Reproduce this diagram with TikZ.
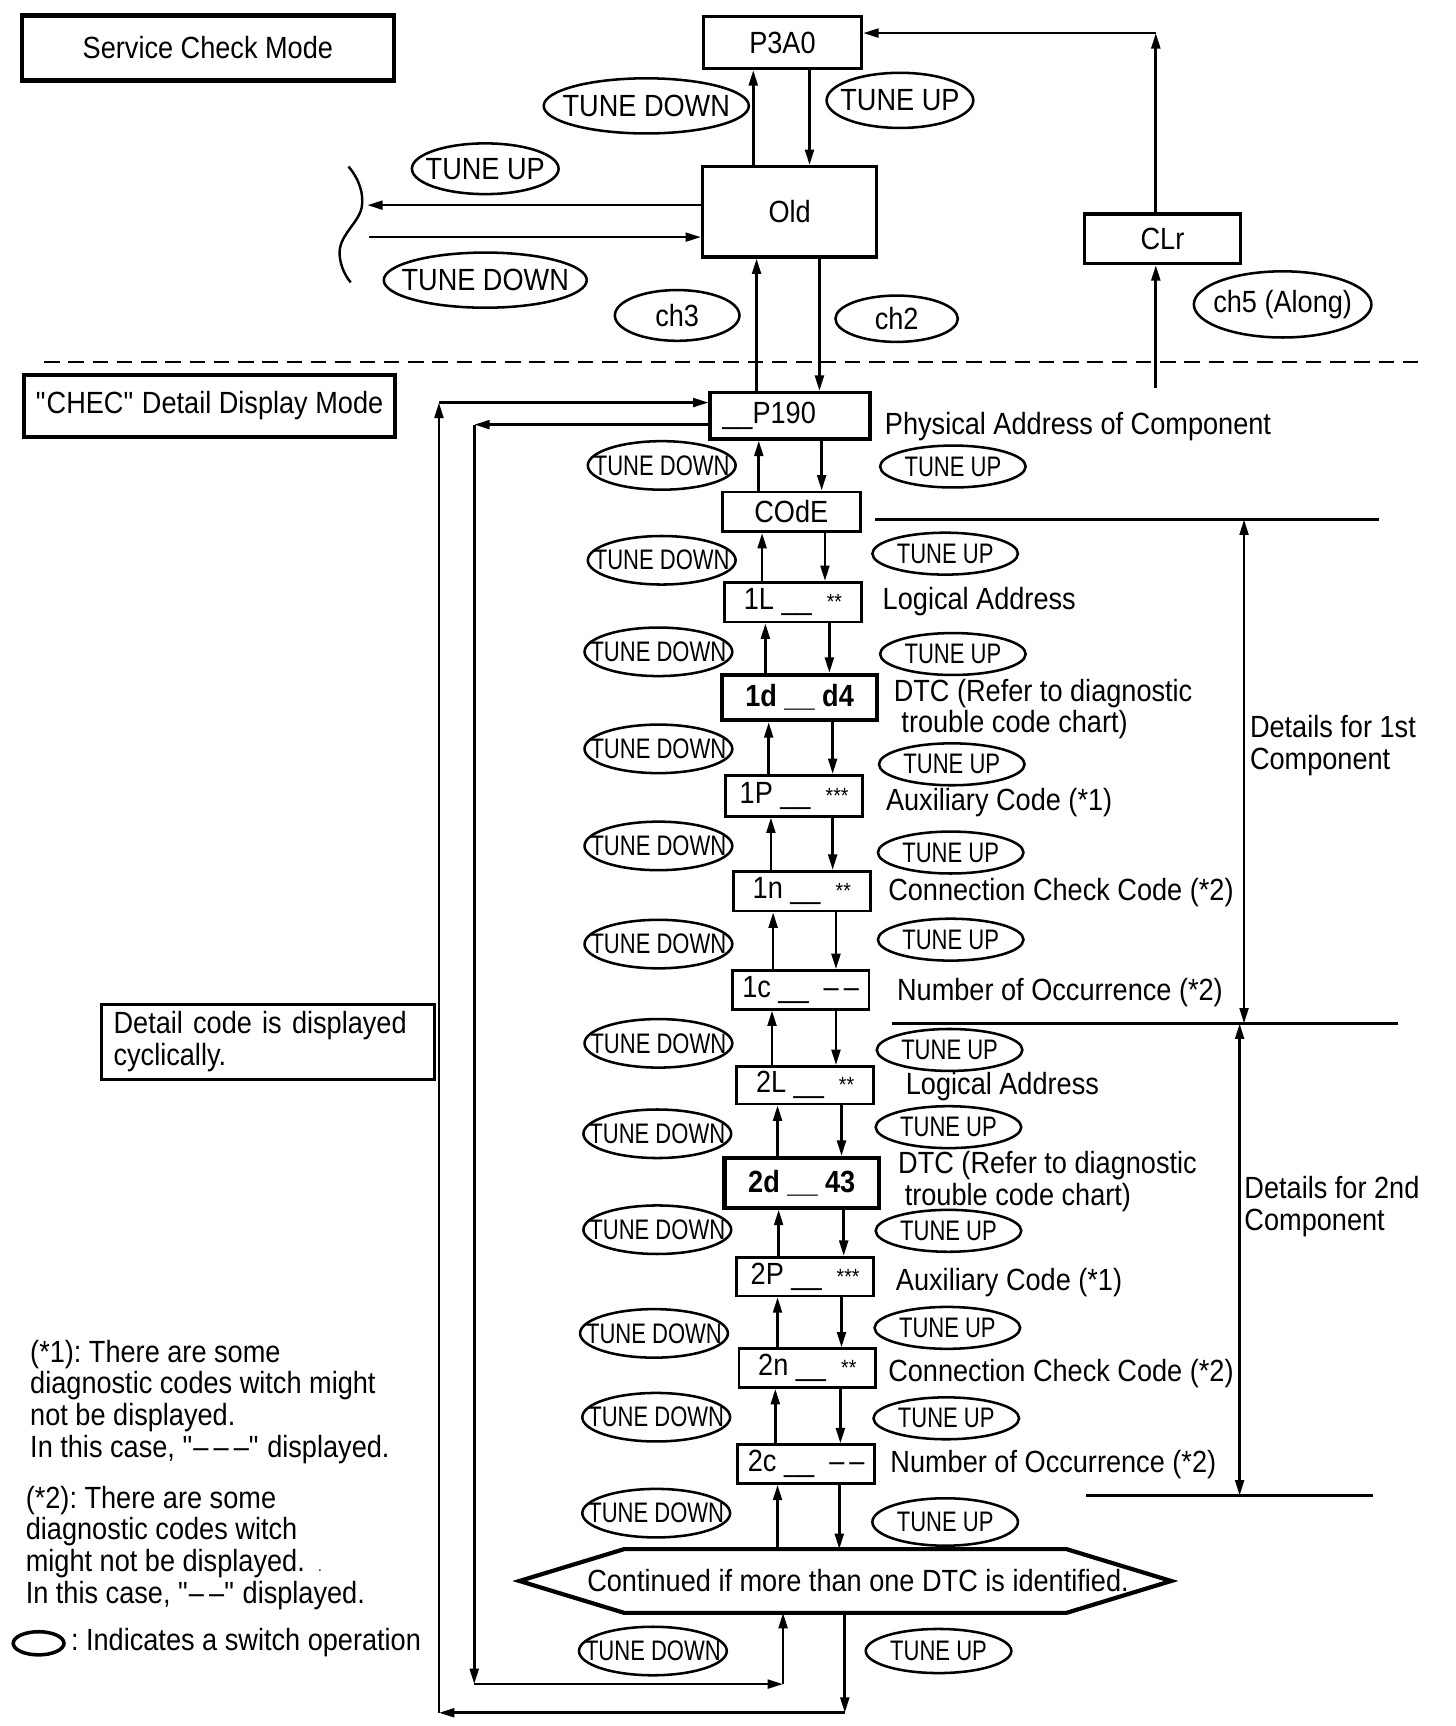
\documentclass[tikz,border=0pt]{standalone}
\usepackage{fontspec}
\setmainfont{Liberation Sans}[FakeStretch=0.885]
\newfontfamily\narrowfont{Liberation Sans}[FakeStretch=0.78]
\usetikzlibrary{arrows.meta,shapes.geometric,calc}
\newcommand\basefnt{\fontsize{13.9}{14.4}\selectfont}
\newcommand\swfnt{\narrowfont\fontsize{12.8}{13}\selectfont}
\newcommand\astfnt{\fontsize{10}{10}\selectfont}
\frenchspacing
\begin{document}
\begin{tikzpicture}[x=0.5pt,y=-0.5pt,
  base/.style={font=\basefnt},
  box/.style={draw, rectangle, inner sep=0pt, font=\basefnt, line width=1.25pt},
  sw/.style={draw, ellipse, line width=1.15pt, inner sep=0pt},
  bigsw/.style={sw, label={[font=\basefnt]center:#1}},
  tdn/.style={sw, minimum width=67pt, minimum height=22pt, label={[font=\swfnt]center:TUNE DOWN}},
  tup/.style={sw, minimum width=66pt, minimum height=19pt, label={[font=\swfnt]center:TUNE UP}},
  arr/.style={line width=1.2pt, -{Triangle[length=7pt,width=4pt]}},
  darr/.style={line width=1.1pt, {Triangle[length=7pt,width=4pt]}-{Triangle[length=7pt,width=4pt]}},
  lbl/.style={font=\basefnt, anchor=west, inner sep=0pt, align=left},
  rule/.style={line width=1.1pt}
]
\useasboundingbox (0,0) rectangle (1320,1565);

% ---------- top section ----------
\node[box, line width=1.9pt, minimum width=168.5pt, minimum height=29.5pt] (scm) at (188.5,43.5) {Service Check Mode};
\node[box, line width=1.6pt, minimum width=71.5pt, minimum height=23.5pt] (p3a0) at (709.5,38.5) {P3A0};
\node[box, line width=1.4pt, minimum width=79pt, minimum height=41pt] (old) at (716,192) {Old};
\node[box, line width=1.4pt, minimum width=71pt, minimum height=22.5pt] (clr) at (1054,216.5) {CLr};

\node[bigsw=TUNE DOWN, minimum width=93pt, minimum height=25pt] (td1) at (586,96) {};
\node[bigsw=TUNE UP, minimum width=66.5pt, minimum height=25pt] (tu1) at (816,91) {};
\node[bigsw=TUNE UP, minimum width=66.5pt, minimum height=23pt] (tu2) at (440,153) {};
\node[bigsw=TUNE DOWN, minimum width=92pt, minimum height=25pt] (td2) at (440,254) {};
\node[bigsw=ch3, minimum width=56.5pt, minimum height=23pt] (ch3) at (614,286) {};
\node[bigsw=ch2, minimum width=55.5pt, minimum height=21pt] (ch2) at (813,289) {};
\node[bigsw=ch5 (Along), minimum width=80.5pt, minimum height=30pt] (ch5) at (1163,276) {};

\draw[line width=1.1pt] (316,151) .. controls (326,163) and (330,176) .. (328,188)
  .. controls (325,203) and (306,214) .. (308,232)
  .. controls (309,242) and (313,250) .. (318,256);

\coordinate (bl) at (333,186);
\coordinate (br) at (335,215);
\draw[arr] (old.west |- bl) -- (bl);
\draw[arr] (br) -- (old.west |- br);
\draw[arr] (old.north -| 683,0) -- (p3a0.south -| 683,0);
\draw[arr] (p3a0.south -| 734,0) -- (old.north -| 734,0);

\coordinate (clrin) at (1048,352);
\coordinate (clrtop) at (1048,30);
\draw[arr] (clrin) -- (clr.south -| clrin);
\draw[arr] (clr.north -| clrtop) -- (clrtop);
\draw[arr] (clrtop) -- (p3a0.east |- clrtop);

\coordinate (dl) at (40,328);
\coordinate (dr) at (1288,328);
\draw[line width=1.1pt, dash pattern=on 7pt off 4pt] (dl) -- (dr);

% ---------- lower section ----------
\node[box, line width=1.9pt, minimum width=168pt, minimum height=28pt] (chec) at (190,368) {\textquotedbl CHEC\textquotedbl\ Detail Display Mode};

\node[box, line width=1.6pt, minimum width=72.5pt, minimum height=21pt, text width=61.5pt, inner xsep=5.5pt, align=left] (p190) at (716.5,377) {\_\_P190};
\node[box, minimum width=62.5pt, minimum height=18pt] (code) at (717.5,464) {COdE};
\node[box, minimum width=62pt, minimum height=18pt] (l1) at (719,546) {1L \_\_ \ {\astfnt **}};
\node[box, line width=1.9pt, minimum width=70pt, minimum height=20.5pt] (d1) at (725,632.5) {\textbf{1d \_\_ d4}};
\node[box, minimum width=62pt, minimum height=18.5pt] (p1) at (720,721.5) {1P \_\_ \ {\astfnt ***}};
\node[box, minimum width=62pt, minimum height=18pt] (n1) at (727,808) {1n \_\_ \ {\astfnt **}};
\node[box, minimum width=62pt, minimum height=17.5pt] (c1) at (726,897.5) {1c \_\_ \ –\,–};
\node[box, minimum width=62pt, minimum height=17pt] (l2) at (730,984) {2L \_\_ \ {\astfnt **}};
\node[box, line width=1.9pt, minimum width=70pt, minimum height=22.5pt] (d2) at (727,1072.5) {\textbf{2d \_\_ 43}};
\node[box, minimum width=62pt, minimum height=17.5pt] (p2) at (730,1157.5) {2P \_\_ \ {\astfnt ***}};
\node[box, minimum width=62pt, minimum height=17.5pt] (n2) at (732,1240.5) {2n \_\_ \ {\astfnt **}};
\node[box, minimum width=62pt, minimum height=17.5pt] (c2) at (731,1327.5) {2c \_\_ \ –\,–};

\node[font=\basefnt, inner sep=0pt, minimum height=28.5pt] (hex) at (778,1433.5) {Continued if more than one DTC is identified.};
\draw[line width=1.9pt, line join=miter] (hex.north -| 566,0) -- (hex.north -| 967,0) -- (1062,1433.5)
  -- (hex.south -| 967,0) -- (hex.south -| 566,0) -- (471,1433.5) -- cycle;

% side labels
\node[lbl] (lp190) at (802,387) {Physical Address of Component};
\node[lbl] (ll1) at (800,545) {Logical Address};
\node[lbl] (ld1) at (810,643) {DTC (Refer to diagnostic\\\hspace*{3.5pt}trouble code chart)};
\node[lbl] (lp1) at (803,728) {Auxiliary Code (*1)};
\node[lbl] (ln1) at (805,809) {Connection Check Code (*2)};
\node[lbl] (lc1) at (813,900) {Number of Occurrence (*2)};
\node[lbl] (ll2) at (821,985) {Logical Address};
\node[lbl] (ld2) at (814,1071) {DTC (Refer to diagnostic\\\hspace*{3pt}trouble code chart)};
\node[lbl] (lp2) at (812,1163) {Auxiliary Code (*1)};
\node[lbl] (ln2) at (805,1245) {Connection Check Code (*2)};
\node[lbl] (lc2) at (807,1328) {Number of Occurrence (*2)};

\node[lbl] (det1) at (1133,676) {Details for 1st\\Component};
\node[lbl] (det2) at (1128,1094) {Details for 2nd\\Component};

% switch ellipses, lower section
\node[tdn] (tda) at (600,422) {};
\node[tdn] (tdb) at (600,508) {};
\node[tdn] (tdc) at (597,591) {};
\node[tdn] (tdd) at (597,679) {};
\node[tdn] (tde) at (597,767) {};
\node[tdn] (tdf) at (597,856) {};
\node[tdn] (tdg) at (597,946) {};
\node[tdn] (tdh) at (596,1028) {};
\node[tdn] (tdi) at (596,1115) {};
\node[tdn] (tdj) at (593,1209) {};
\node[tdn] (tdk) at (595,1285) {};
\node[tdn] (tdl) at (595,1372) {};
\node[tdn] (tdm) at (592,1497) {};

\node[tup] (tua) at (864,423) {};
\node[tup] (tub) at (857,502) {};
\node[tup] (tuc) at (864,593) {};
\node[tup] (tud) at (863,693) {};
\node[tup] (tue) at (862,773) {};
\node[tup] (tuf) at (862,852) {};
\node[tup] (tug) at (861,952) {};
\node[tup] (tuh) at (860,1022) {};
\node[tup] (tui) at (860,1116) {};
\node[tup] (tuj) at (859,1204) {};
\node[tup] (tuk) at (858,1286) {};
\node[tup, minimum height=21.5pt] (tul) at (857,1380) {};
\node[tup, minimum height=20pt] (tum) at (851,1497) {};

% chain arrows
\draw[arr] (old.south -| 743,0) -- (p190.north -| 743,0);
\draw[arr] (p190.north -| 686,0) -- (old.south -| 686,0);
\foreach \up/\lo/\xu/\xd in {p190/code/688/745, code/l1/691/748, l1/d1/694/752, d1/p1/697/755,
  p1/n1/699/755, n1/c1/701/758, c1/l2/700/758, l2/d2/705/763, d2/p2/706/765, p2/n2/705/763,
  n2/c2/703/762, c2/hex/705/761}{
  \draw[arr] (\lo.north -| \xu,0) -- (\up.south -| \xu,0);
  \draw[arr] (\up.south -| \xd,0) -- (\lo.north -| \xd,0);
}

% loops
\coordinate (obr) at (766,1553);
\coordinate (obl) at (398,1553);
\coordinate (otl) at (398,365);
\coordinate (itl) at (430,385);
\coordinate (ibl) at (430,1527);
\coordinate (ibr) at (710,1527);
\draw[arr] (hex.south -| obr) -- (obr);
\draw[arr] (obr) -- (obl);
\draw[arr] (obl) -- (otl);
\draw[arr] (otl) -- (p190.west |- otl);
\draw[arr] (p190.west |- itl) -- (itl);
\draw[arr] (itl) -- (ibl);
\draw[arr] (ibl) -- (ibr);
\draw[arr] (ibr) -- (hex.south -| ibr);

% component rules
\coordinate (r1a) at (793,471);  \coordinate (r1b) at (1250,471);
\coordinate (r2a) at (809,928);  \coordinate (r2b) at (1268,928);
\coordinate (r3a) at (985,1356); \coordinate (r3b) at (1245,1356);
\draw[rule] (r1a) -- (r1b);
\draw[rule] (r2a) -- (r2b);
\draw[rule] (r3a) -- (r3b);
\coordinate (v1a) at (1128,471); \coordinate (v1b) at (1128,928);
\coordinate (v2a) at (1124,928); \coordinate (v2b) at (1124,1356);
\draw[darr] (v1a) -- (v1b);
\draw[darr] (v2a) -- (v2b);

% cyclic note box
\node[draw, line width=1.25pt, rectangle, font=\basefnt, text width=140pt, inner xsep=5.5pt, minimum height=31.5pt, align=left] (cyc) at (243,944.5) {Detail code is displayed\\cyclically.};

% notes
\node[lbl] (note1) at (27,1271) {(*1): There are some\\diagnostic codes witch might\\not be displayed.\\In this case, \textquotedbl–\,–\,–\textquotedbl\ displayed.};
\node[lbl] (note2) at (23,1403.5) {(*2): There are some\\diagnostic codes witch\\might not be displayed.\hspace{6pt}{\fontsize{7}{7}\selectfont .}\\In this case, \textquotedbl–\,–\textquotedbl\ displayed.};
\node[draw, ellipse, line width=1.6pt, minimum width=23pt, minimum height=10.5pt, inner sep=0pt] (legend) at (35,1490) {};
\node[lbl] (legtxt) at (64,1489) {: Indicates a switch operation};
\end{tikzpicture}
\end{document}
